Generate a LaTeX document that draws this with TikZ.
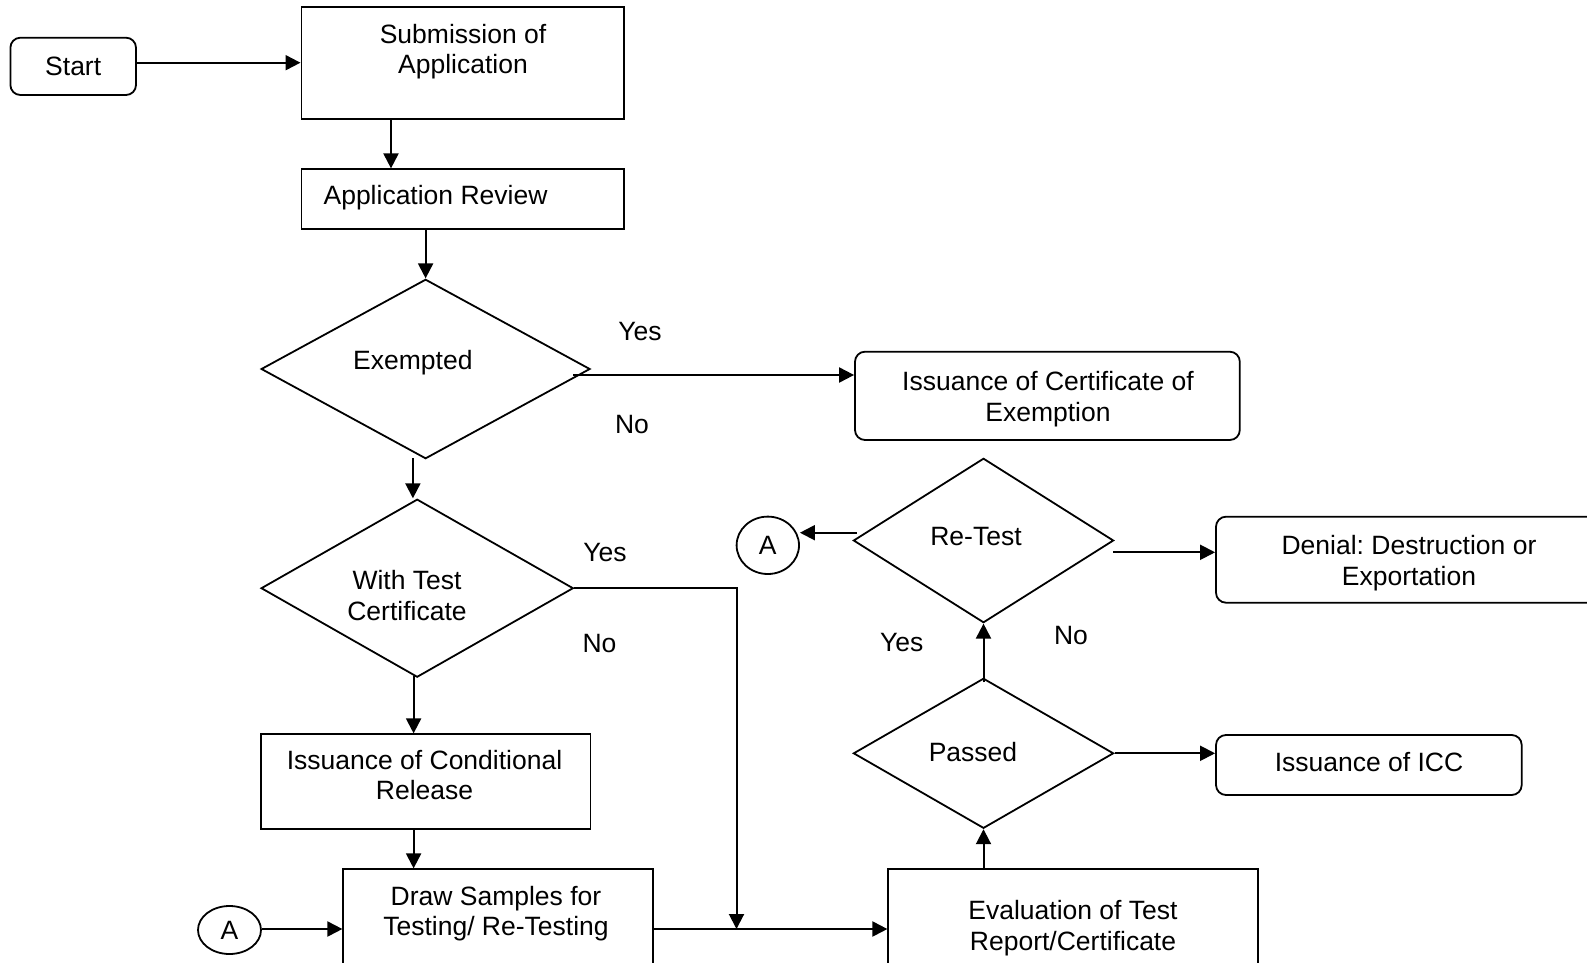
\documentclass[tikz,border=0pt]{standalone}
\usepackage{fontspec}
\setmainfont{Liberation Sans}
\usetikzlibrary{shapes.geometric,arrows.meta,calc}
\frenchspacing
\begin{document}
\begin{tikzpicture}[x=1pt,y=-1pt,
  every node/.style={font=\fontsize{26.5pt}{30.5pt}\selectfont, inner sep=0pt},
  shp/.style={draw, line width=1.8pt},
  box/.style={shp, rectangle},
  rbox/.style={shp, rectangle, rounded corners=10pt},
  dia/.style={shp, diamond},
  circ/.style={shp, ellipse},
  lbl/.style={anchor=base},
  mtxt/.style={align=center},
  arr/.style={line width=2pt, -{Triangle[length=15pt,width=15pt]}},
  ln/.style={line width=2pt}]
\useasboundingbox (0,0) rectangle (1587,963);
\clip (0,0) rectangle (1587,963);

% shapes
\node[rbox, minimum width=125.6pt, minimum height=57.3pt] (start) at (73.2,66.35) {Start};
\node[box, minimum width=322.6pt, minimum height=111.7pt] (sub) at (462.7,63.15) {};
\node[box, minimum width=322.6pt, minimum height=60pt] (rev) at (462.7,199.3) {};
\node[dia, minimum width=328.9pt, minimum height=179.4pt] (exm) at (425.6,369) {};
\node[rbox, minimum width=384.8pt, minimum height=88.3pt] (cex) at (1047.4,395.85) {};
\node[dia, minimum width=312.2pt, minimum height=178pt] (wtc) at (417.2,588.2) {};
\node[box, minimum width=329.7pt, minimum height=94.7pt] (cond) at (425.55,781.65) {};
\node[box, minimum width=310pt, minimum height=120.7pt] (drw) at (498.3,929.65) {};
\node[box, minimum width=370pt, minimum height=120.7pt] (evl) at (1073.3,929.65) {};
\node[dia, minimum width=260.2pt, minimum height=150pt] (pas) at (983.5,753.3) {};
\node[dia, minimum width=260.2pt, minimum height=164.4pt] (ret) at (983.5,540.5) {};
\node[rbox, minimum width=305.7pt, minimum height=60pt] (icc) at (1368.85,765) {};
\node[rbox, minimum width=386pt, minimum height=86pt] (den) at (1409,559.7) {};
\node[circ, minimum width=62.4pt, minimum height=57.4pt] (a1) at (767.8,545.3) {A};
\node[circ, minimum width=63pt, minimum height=48pt] (a2) at (229.5,930) {A};

% texts
\node[mtxt] (subt) at (463,51.8) {Submission of\\Application};
\node[anchor=base west] (revt) at (323.4,204) {Application Review};
\node[lbl] (exmt) at (412.9,369.8) {Exempted};
\node[mtxt] (cext) at (1048,398.9) {Issuance of Certificate of\\Exemption};
\node[mtxt] (wtct) at (407,595.5) {With Test\\Certificate};
\node[mtxt] (condt) at (424.5,775) {Issuance of Conditional\\Release};
\node[mtxt] (drwt) at (496,913.4) {Draw Samples for\\Testing/ Re-Testing};
\node[mtxt] (evlt) at (1073,928.3) {Evaluation of Test\\Report/Certificate};
\node[lbl] (past) at (973,761.7) {Passed};
\node[lbl] (rett) at (976,545) {Re-Test};
\node[lbl] (icct) at (1369,771.7) {Issuance of ICC};
\node[mtxt] (dent) at (1409,563.2) {Denial: Destruction or\\Exportation};

% yes/no labels
\node[lbl] (y1) at (640,340) {Yes};
\node[lbl] (n1) at (632,433.3) {No};
\node[lbl] (y2) at (605,561.7) {Yes};
\node[lbl] (n2) at (599.5,652.7) {No};
\node[lbl] (y3) at (901.7,651.7) {Yes};
\node[lbl] (n3) at (1071,644) {No};

% helper coordinates
\coordinate (e1) at (573.3,375);
\coordinate (e2) at (412.9,458);
\coordinate (e3) at (413.6,676);
\coordinate (j) at (736.5,929);
\coordinate (e5) at (856.7,532.7);
\coordinate (e6) at (1113,552.3);

% connectors
\draw[arr] (start.east |- 0,62.7) -- (sub.west |- 0,62.7);
\draw[arr] (sub.south -| 391,0) -- (rev.north -| 391,0);
\draw[arr] (rev.south -| exm.north) -- (exm.north);
\draw[arr] (e1) -- (e1 -| cex.west);
\draw[arr] (e2) -- (e2 |- wtc.north);
\draw[arr] (wtc.east) -| (j);
\draw[arr] (e3) -- (e3 |- cond.north);
\draw[arr] (cond.south -| e3) -- (drw.north -| e3);
\draw[arr] (a2.east |- j) -- (drw.west |- j);
\draw[arr] (drw.east |- j) -- (evl.west |- j);
\draw[arr] (evl.north -| pas.south) -- (pas.south);
\draw[arr] ([yshift=-5pt]pas.north) -- (ret.south);
\draw[arr] (pas.east) -- (icc.west |- pas.east);
\draw[arr] (e5) -- (e5 -| a1.east);
\draw[arr] (e6) -- (e6 -| den.west);
\end{tikzpicture}
\end{document}
